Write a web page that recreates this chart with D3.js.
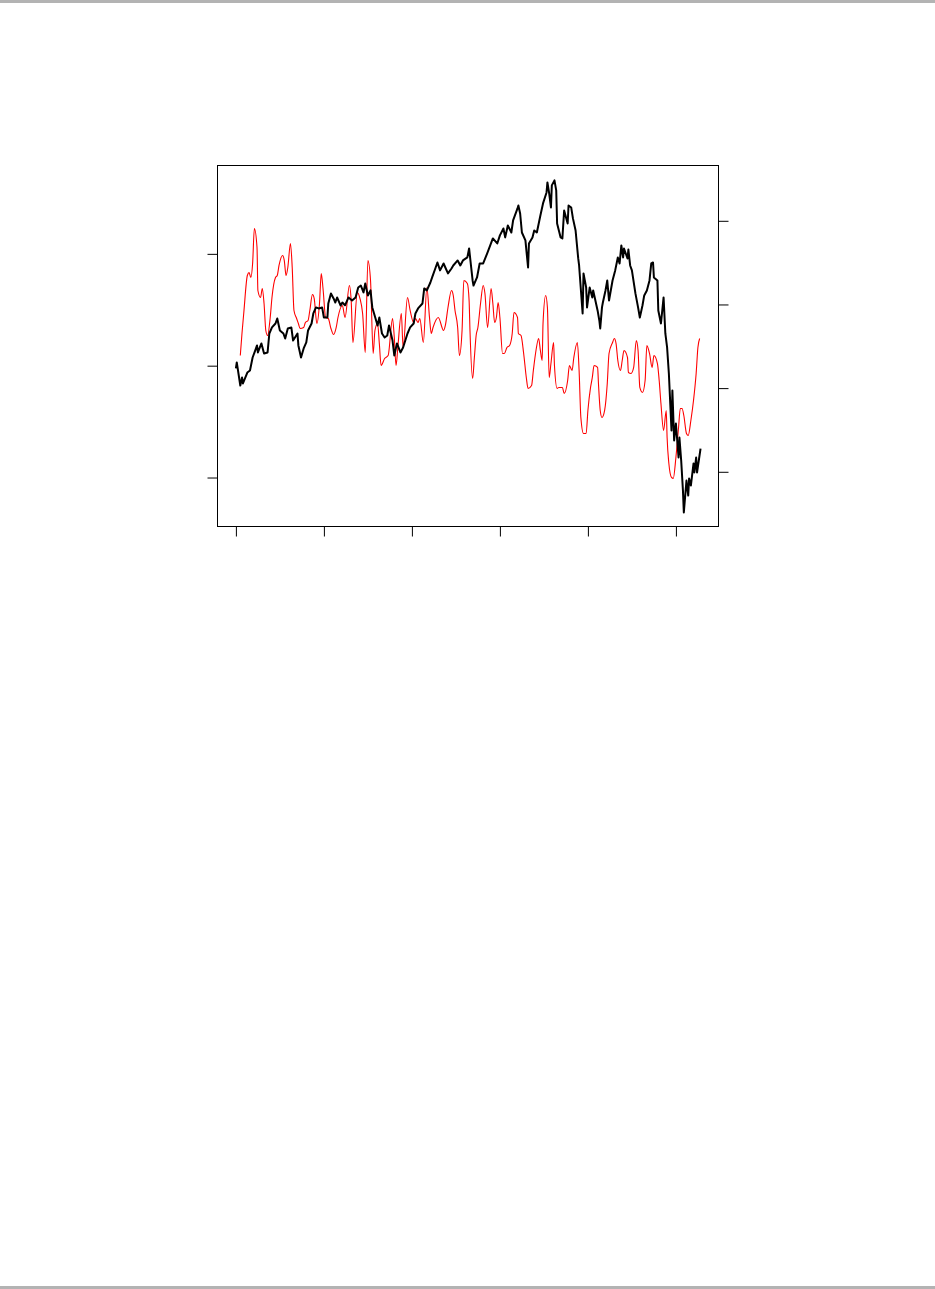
<!DOCTYPE html>
<html>
<head>
<meta charset="utf-8">
<script src="https://cdn.jsdelivr.net/npm/d3@7"></script>
<style>
  body { margin: 0; background: #fff; }
  svg { display: block; }
</style>
</head>
<body>
<div id="graph"></div>
<script>
// tick positions (no labels are printed on the chart)
var xTicks = [0, 1, 2, 3, 4, 5];
var leftTicks = [1, 2, 3];
var rightTicks = [0, 1, 2, 3];

// black series, left axis
var blackT = [0.00, 0.01, 0.05, 0.07, 0.08, 0.13, 0.16, 0.19, 0.22, 0.24, 0.25, 0.29, 0.32, 0.36, 0.38, 0.41, 0.45, 0.47, 0.50, 0.54,
    0.56, 0.59, 0.63, 0.65, 0.70, 0.71, 0.74, 0.77, 0.80, 0.82, 0.86, 0.88, 0.91, 0.94, 0.98, 1.00, 1.04, 1.05, 1.08, 1.11,
    1.13, 1.15, 1.19, 1.21, 1.24, 1.28, 1.32, 1.36, 1.39, 1.42, 1.45, 1.47, 1.50, 1.53, 1.55, 1.57, 1.61, 1.63, 1.66, 1.69,
    1.72, 1.74, 1.78, 1.80, 1.83, 1.87, 1.90, 1.95, 1.98, 2.02, 2.04, 2.07, 2.12, 2.14, 2.17, 2.21, 2.23, 2.27, 2.29, 2.32,
    2.36, 2.38, 2.41, 2.45, 2.47, 2.52, 2.55, 2.58, 2.63, 2.65, 2.69, 2.70, 2.74, 2.77, 2.81, 2.86, 2.89, 2.92, 2.97, 3.00,
    3.04, 3.06, 3.09, 3.13, 3.15, 3.20, 3.21, 3.23, 3.25, 3.29, 3.32, 3.33, 3.37, 3.39, 3.42, 3.46, 3.49, 3.53, 3.54, 3.56,
    3.58, 3.59, 3.62, 3.64, 3.65, 3.69, 3.71, 3.73, 3.77, 3.78, 3.81, 3.83, 3.86, 3.89, 3.90, 3.94, 3.95, 3.98, 3.99, 4.02,
    4.05, 4.06, 4.11, 4.13, 4.14, 4.16, 4.17, 4.20, 4.22, 4.24, 4.28, 4.31, 4.34, 4.36, 4.38, 4.40, 4.41, 4.45, 4.46, 4.48,
    4.50, 4.54, 4.57, 4.59, 4.62, 4.64, 4.67, 4.70, 4.72, 4.74, 4.75, 4.79, 4.80, 4.83, 4.86, 4.88, 4.90, 4.92, 4.95, 4.96,
    4.98, 5.00, 5.03, 5.04, 5.06, 5.08, 5.09, 5.12, 5.14, 5.15, 5.17, 5.20, 5.21, 5.23, 5.24, 5.28];
var blackV = [1.975, 2.029, 1.823, 1.894, 1.841, 1.939, 1.957, 2.073, 2.136, 2.181, 2.118, 2.199, 2.109, 2.118, 2.288, 2.342, 2.377, 2.422, 2.315, 2.288,
    2.243, 2.333, 2.342, 2.225, 2.288, 2.181, 2.073, 2.154, 2.208, 2.315, 2.377, 2.467, 2.521, 2.512, 2.521, 2.431, 2.431, 2.556, 2.646, 2.601,
    2.565, 2.610, 2.538, 2.565, 2.540, 2.610, 2.583, 2.610, 2.699, 2.717, 2.655, 2.735, 2.628, 2.673, 2.521, 2.467, 2.360, 2.431, 2.288, 2.252,
    2.270, 2.360, 2.225, 2.091, 2.199, 2.118, 2.163, 2.288, 2.342, 2.377, 2.467, 2.512, 2.556, 2.691, 2.673, 2.744, 2.789, 2.878, 2.923, 2.852,
    2.914, 2.878, 2.825, 2.869, 2.896, 2.941, 2.896, 2.941, 2.968, 3.048, 2.762, 2.717, 2.789, 2.914, 2.914, 3.013, 3.075, 3.138, 3.093, 3.165,
    3.227, 3.147, 3.254, 3.191, 3.299, 3.406, 3.433, 3.361, 3.191, 3.120, 2.878, 3.093, 3.147, 3.209, 3.191, 3.343, 3.451, 3.549, 3.639, 3.540,
    3.415, 3.612, 3.657, 3.567, 3.272, 3.147, 3.138, 3.388, 3.272, 3.433, 3.415, 3.317, 3.209, 2.959, 2.896, 2.467, 2.825, 2.699, 2.521, 2.699,
    2.610, 2.673, 2.494, 2.404, 2.333, 2.521, 2.565, 2.673, 2.762, 2.583, 2.762, 2.852, 2.968, 2.914, 3.075, 2.968, 3.048, 2.959, 3.039, 2.896,
    2.852, 2.646, 2.521, 2.431, 2.538, 2.628, 2.673, 2.762, 2.914, 2.923, 2.789, 2.762, 2.494, 2.377, 2.610, 2.288, 2.163, 1.930, 1.420, 1.778,
    1.331, 1.483, 1.179, 1.358, 1.152, 0.884, 0.687, 0.973, 0.839, 0.991, 0.928, 1.125, 1.045, 1.179, 1.045, 1.259];

// red series, right axis
var redT = [0.05, 0.07, 0.09, 0.13, 0.15, 0.17, 0.19, 0.21, 0.24, 0.25, 0.28, 0.30, 0.32, 0.34, 0.36, 0.39, 0.41, 0.45, 0.47, 0.49,
    0.53, 0.55, 0.57, 0.59, 0.62, 0.64, 0.66, 0.69, 0.71, 0.73, 0.77, 0.79, 0.82, 0.84, 0.87, 0.89, 0.92, 0.95, 0.97, 0.99,
    1.02, 1.05, 1.08, 1.11, 1.14, 1.16, 1.21, 1.24, 1.29, 1.31, 1.33, 1.38, 1.41, 1.44, 1.47, 1.50, 1.53, 1.56, 1.58, 1.61,
    1.63, 1.65, 1.69, 1.73, 1.78, 1.80, 1.82, 1.84, 1.88, 1.90, 1.95, 1.98, 2.02, 2.04, 2.07, 2.09, 2.13, 2.17, 2.20, 2.22,
    2.24, 2.30, 2.36, 2.38, 2.41, 2.45, 2.47, 2.49, 2.52, 2.54, 2.57, 2.59, 2.63, 2.65, 2.66, 2.69, 2.71, 2.73, 2.75, 2.78,
    2.81, 2.83, 2.86, 2.90, 2.92, 2.94, 2.96, 2.98, 3.00, 3.03, 3.05, 3.08, 3.11, 3.14, 3.16, 3.20, 3.21, 3.24, 3.27, 3.30,
    3.32, 3.36, 3.38, 3.41, 3.44, 3.46, 3.48, 3.49, 3.52, 3.54, 3.56, 3.58, 3.61, 3.62, 3.65, 3.67, 3.71, 3.73, 3.77, 3.79,
    3.82, 3.84, 3.88, 3.90, 3.92, 3.95, 3.98, 4.00, 4.03, 4.05, 4.07, 4.11, 4.12, 4.14, 4.16, 4.19, 4.22, 4.24, 4.28, 4.30,
    4.32, 4.34, 4.37, 4.39, 4.41, 4.45, 4.46, 4.49, 4.52, 4.55, 4.57, 4.59, 4.62, 4.65, 4.67, 4.70, 4.73, 4.75, 4.79, 4.81,
    4.83, 4.86, 4.89, 4.90, 4.92, 4.95, 4.97, 5.00, 5.03, 5.05, 5.07, 5.09, 5.12, 5.14, 5.17, 5.20, 5.23, 5.25, 5.27];
var redV = [1.390, 1.665, 1.904, 2.346, 2.382, 2.322, 2.490, 2.908, 2.681, 2.167, 2.083, 2.191, 2.011, 1.689, 1.629, 1.844, 2.083, 2.322, 2.346, 2.466,
    2.585, 2.525, 2.346, 2.442, 2.729, 2.442, 1.928, 1.832, 1.772, 1.713, 1.725, 1.784, 1.808, 1.928, 2.119, 2.071, 1.772, 2.011, 2.370, 2.191,
    1.844, 1.832, 1.713, 1.641, 1.725, 1.844, 1.988, 1.844, 2.227, 2.047, 1.545, 2.143, 2.071, 1.892, 1.426, 2.525, 2.286, 1.414, 1.689, 1.772,
    1.533, 1.270, 1.354, 1.390, 1.832, 1.605, 1.270, 1.486, 1.892, 1.486, 2.083, 1.928, 1.784, 1.832, 1.784, 1.832, 1.545, 2.203, 1.844, 1.653,
    1.725, 1.844, 1.689, 1.749, 1.964, 2.167, 2.107, 1.928, 1.725, 1.390, 1.689, 2.286, 2.250, 2.047, 1.689, 1.115, 1.366, 1.629, 1.725, 2.011,
    2.227, 2.131, 1.725, 2.191, 2.011, 1.784, 1.844, 2.023, 1.844, 1.414, 1.414, 1.486, 1.510, 1.653, 1.904, 1.844, 1.653, 1.629, 1.414, 1.127,
    0.996, 1.031, 1.211, 1.450, 1.593, 1.450, 1.330, 1.772, 2.107, 1.964, 1.127, 1.294, 1.545, 1.270, 0.996, 1.008, 1.008, 0.936, 1.091, 1.270,
    1.211, 1.366, 1.545, 1.211, 0.649, 0.458, 0.458, 0.733, 1.008, 1.127, 1.270, 1.247, 1.055, 0.733, 0.649, 0.733, 1.055, 1.414, 1.545, 1.593,
    1.533, 1.330, 1.211, 1.330, 1.450, 1.366, 1.187, 1.175, 1.247, 1.569, 1.450, 1.008, 0.948, 1.091, 1.510, 1.414, 1.247, 1.390, 1.294, 1.091,
    0.816, 0.494, 0.733, 0.410, 0.099, -0.068, -0.080, 0.171, 0.529, 0.757, 0.757, 0.673, 0.458, 0.434, 0.613, 0.852, 1.175, 1.486, 1.593];

var width = 935, height = 1289;
var margin = { top: 165.5, left: 217.5, right: 216.5, bottom: 762.5 };
var plotW = width - margin.left - margin.right;
var plotH = height - margin.top - margin.bottom;

var svg = d3.select("#graph").append("svg")
    .attr("width", width)
    .attr("height", height);

// grey rules at top and bottom of the page
svg.append("rect").attr("x", 0).attr("y", 0).attr("width", width).attr("height", 3).attr("fill", "#b3b3b3");
svg.append("rect").attr("x", 0).attr("y", height - 3).attr("width", width).attr("height", 3).attr("fill", "#b3b3b3");

var x = d3.scaleLinear().domain([-0.209, 5.484]).range([0, plotW]);
var yLeft = d3.scaleLinear().domain([0.562, 3.790]).range([plotH, 0]);
var yRight = d3.scaleLinear().domain([-0.654, 3.661]).range([plotH, 0]);

var g = svg.append("g")
    .attr("transform", "translate(" + margin.left + "," + margin.top + ")");

var clip = svg.append("defs").append("clipPath").attr("id", "plotclip")
    .append("rect").attr("width", plotW).attr("height", plotH);

var blackData = blackT.map(function(t, i) { return { t: t, v: blackV[i] }; });
var redData = redT.map(function(t, i) { return { t: t, v: redV[i] }; });

var blackLine = d3.line()
    .x(function(d) { return x(d.t); })
    .y(function(d) { return yLeft(d.v); });

var redLine = d3.line()
    .curve(d3.curveMonotoneX)
    .x(function(d) { return x(d.t); })
    .y(function(d) { return yRight(d.v); });

var lines = g.append("g").attr("clip-path", "url(#plotclip)");

lines.append("path")
    .datum(redData)
    .attr("fill", "none")
    .attr("stroke", "#ff0000")
    .attr("stroke-width", 1.1)
    .attr("stroke-linejoin", "round")
    .attr("d", redLine);

lines.append("path")
    .datum(blackData)
    .attr("fill", "none")
    .attr("stroke", "#000")
    .attr("stroke-width", 2)
    .attr("stroke-linejoin", "round")
    .attr("d", blackLine);

function styleAxis(sel) {
    sel.select(".domain").remove();
    sel.selectAll(".tick line").attr("stroke", "#000").attr("stroke-width", 1);
    sel.selectAll(".tick text").remove();
}

g.append("g")
    .attr("transform", "translate(0," + plotH + ")")
    .call(d3.axisBottom(x).tickValues(xTicks).tickSize(10).tickFormat(""))
    .call(styleAxis);

g.append("g")
    .call(d3.axisLeft(yLeft).tickValues(leftTicks).tickSize(10).tickFormat(""))
    .call(styleAxis);

g.append("g")
    .attr("transform", "translate(" + plotW + ",0)")
    .call(d3.axisRight(yRight).tickValues(rightTicks).tickSize(10).tickFormat(""))
    .call(styleAxis);

g.append("rect")
    .attr("width", plotW)
    .attr("height", plotH)
    .attr("fill", "none")
    .attr("stroke", "#000")
    .attr("stroke-width", 1);
</script>
</body>
</html>
